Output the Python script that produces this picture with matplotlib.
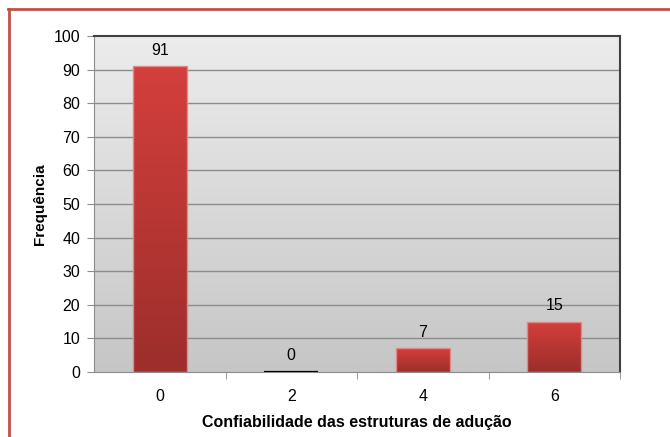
import numpy as np
import matplotlib.pyplot as plt
from matplotlib.colors import LinearSegmentedColormap

plt.rcParams['font.family'] = ['Liberation Sans', 'DejaVu Sans']

categorias = ['0', '2', '4', '6']
frequencia = [91, 0, 7, 15]
yticks = list(range(0, 101, 10))

fig = plt.figure(figsize=(6.7, 4.37), dpi=100)
ax = fig.add_axes([94/670, 65/437, 526/670, 336/437])

x = np.arange(len(categorias))
ax.set_xlim(-0.5, len(categorias) - 0.5)
ax.set_ylim(0, 100)

# fundo em degradê
bg = LinearSegmentedColormap.from_list('bg', ['#c6c6c6', '#ececec'])
ax.imshow(np.linspace(0, 1, 256).reshape(-1, 1), cmap=bg, aspect='auto',
          extent=(-0.5, len(categorias) - 0.5, 0, 100), origin='lower', zorder=0)

for v in yticks[1:-1]:
    ax.axhline(v, color='#8c8c8c', lw=1.0, zorder=1)

barcm = LinearSegmentedColormap.from_list('bar', ['#9c2e2b', '#d43f3c'])
bars = ax.bar(x, frequencia, width=0.41, color='none', zorder=3,
              edgecolor=['#e08a88' if f > 0 else '#000000' for f in frequencia],
              linewidth=[1.0 if f > 0 else 1.6 for f in frequencia])
for b in bars:
    if b.get_height() <= 0:
        continue
    im = ax.imshow(np.linspace(0, 1, 256).reshape(-1, 1), cmap=barcm, aspect='auto',
                   extent=(b.get_x(), b.get_x() + b.get_width(), 0, b.get_height()),
                   origin='lower', zorder=2)
    im.set_clip_path(b)

for xi, f in zip(x, frequencia):
    ax.text(xi, f + 2.6, str(f), ha='center', va='bottom', fontsize=11.5)

ax.set_yticks(yticks)
ax.set_xticks(x)
ax.set_xticklabels(categorias)
ax.set_xticks(np.arange(len(categorias)) + 0.5, minor=True)
ax.tick_params(axis='x', which='major', length=0, labelsize=11.5, pad=12)
ax.tick_params(axis='x', which='minor', length=5, color='#8c8c8c')
ax.tick_params(axis='y', length=5, color='#8c8c8c', labelsize=11.5, pad=5)

for s in ['left', 'bottom']:
    ax.spines[s].set_color('#8c8c8c')
for s in ['top', 'right']:
    ax.spines[s].set_color('#404040')
    ax.spines[s].set_linewidth(1.5)

ax.set_xlabel('Confiabilidade das estruturas de adução', fontsize=11.5,
              fontweight='bold', labelpad=8)
ax.set_ylabel('Frequência', fontsize=11, fontweight='bold', labelpad=5)

# moldura vermelha
fig.add_artist(plt.Line2D([8/670, 1.0], [1 - 9/437, 1 - 9/437], color='#c0504d', lw=2))
fig.add_artist(plt.Line2D([9/670, 9/670], [0, 1 - 9/437], color='#c0504d', lw=2))

fig.savefig('out.png', dpi=100, facecolor='white')
